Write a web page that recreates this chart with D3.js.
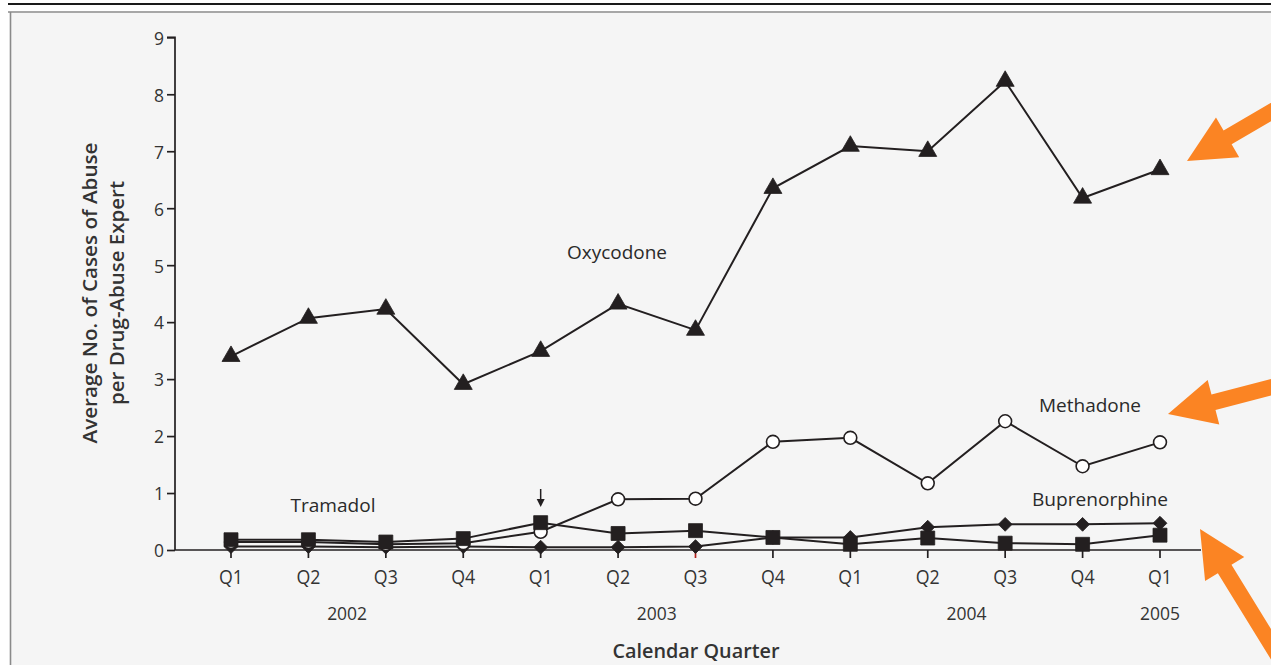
<!DOCTYPE html>
<html><head><meta charset="utf-8">
<script src="https://cdn.jsdelivr.net/npm/d3@7"></script>
<style>html,body{margin:0;padding:0;background:#fff;}svg{display:block;}</style>
</head><body>
<svg id="chart" width="1271" height="665"></svg>
<script>
const quarters = ["Q1","Q2","Q3","Q4","Q1","Q2","Q3","Q4","Q1","Q2","Q3","Q4","Q1"];
const yearLabels = ["2002","2003","2004","2005"];
const yearPositions = [1.5, 5.5, 9.5, 12];
const yTicks = [0,1,2,3,4,5,6,7,8,9];
const oxycodone = [3.40,4.07,4.23,2.91,3.49,4.32,3.86,6.35,7.09,7.00,8.23,6.18,6.68];
const methadone = [0.14,0.14,0.10,0.12,0.32,0.89,0.90,1.90,1.97,1.17,2.26,1.47,1.89];
const tramadol = [0.18,0.18,0.14,0.20,0.48,0.29,0.34,0.22,0.10,0.21,0.12,0.10,0.26];
const buprenorphine = [0.06,0.06,0.05,0.06,0.05,0.05,0.06,0.22,0.22,0.40,0.45,0.45,0.47];

const svg = d3.select("#chart");
const ink = "#231f20";
const font = "'Open Sans', 'DejaVu Sans', sans-serif";

// frame
svg.append("rect").attr("x",11).attr("y",13).attr("width",1260).attr("height",652).attr("fill","#f5f5f5");
svg.append("line").attr("x1",8).attr("x2",1271).attr("y1",4).attr("y2",4).attr("stroke","#1a1a1a").attr("stroke-width",2.2);
svg.append("line").attr("x1",8).attr("x2",1271).attr("y1",12).attr("y2",12).attr("stroke","#8a8a8a").attr("stroke-width",1.6);
svg.append("line").attr("x1",10.5).attr("x2",10.5).attr("y1",12).attr("y2",665).attr("stroke","#8a8a8a").attr("stroke-width",1.6);

const x = d3.scaleLinear().domain([0,12]).range([231,1160]);
const y = d3.scaleLinear().domain([0,9]).range([550,37.3]);
const axisLeft = 175;

// y axis
const yAxis = d3.axisLeft(y).tickValues(yTicks).tickSize(8).tickPadding(3).tickFormat(d3.format("d"));
const gy = svg.append("g").attr("transform",`translate(${axisLeft},0)`).call(yAxis);
gy.select(".domain").attr("stroke",ink).attr("stroke-width",1.7).attr("d",`M-8,${y(9)}H0V${y(0)}`);
gy.selectAll(".tick line").attr("stroke",ink).attr("stroke-width",1.7);
gy.selectAll(".tick text").attr("fill","#333").attr("font-family",font).attr("font-size",19).attr("dy","0.36em")
  .attr("textLength",10).attr("lengthAdjust","spacingAndGlyphs");

// x axis
const gx = svg.append("g").attr("transform",`translate(0,${y(0)})`);
gx.append("line").attr("x1",axisLeft).attr("x2",1201).attr("y1",0).attr("y2",0).attr("stroke",ink).attr("stroke-width",1.7);
const xt = gx.selectAll("g.xt").data(quarters).join("g").attr("class","xt").attr("transform",(d,i)=>`translate(${x(i)},0)`);
xt.append("line").attr("y1",0).attr("y2",8).attr("stroke",(d,i)=> i===6 ? "#b3201c" : ink).attr("stroke-width",1.7);
xt.append("text").attr("y",34).attr("text-anchor","middle").attr("fill","#333").attr("font-family",font).attr("font-size",20)
  .attr("textLength",24).attr("lengthAdjust","spacingAndGlyphs").text(d=>d);
gx.selectAll("text.yr").data(yearLabels).join("text").attr("class","yr")
  .attr("x",(d,i)=>x(yearPositions[i])).attr("y",70).attr("text-anchor","middle")
  .attr("fill","#333").attr("font-family",font).attr("font-size",19).attr("textLength",40).attr("lengthAdjust","spacingAndGlyphs").text(d=>d);

// axis titles
svg.append("text").attr("x",696).attr("y",658).attr("text-anchor","middle").attr("fill","#333")
  .attr("font-family",font).attr("font-size",20).attr("font-weight",600)
  .attr("textLength",167).attr("lengthAdjust","spacingAndGlyphs").text("Calendar Quarter");
const yt = svg.append("g").attr("transform","translate(0,293) rotate(-90)");
yt.append("text").attr("x",0).attr("y",97).attr("text-anchor","middle").attr("fill","#333")
  .attr("font-family",font).attr("font-size",19).attr("font-weight",600)
  .attr("textLength",301).attr("lengthAdjust","spacingAndGlyphs").text("Average No. of Cases of Abuse");
yt.append("text").attr("x",0).attr("y",124).attr("text-anchor","middle").attr("fill","#333")
  .attr("font-family",font).attr("font-size",19).attr("font-weight",600)
  .attr("textLength",224).attr("lengthAdjust","spacingAndGlyphs").text("per Drug-Abuse Expert");

// series
const line = d3.line().x((d,i)=>x(i)).y(d=>y(d));
function drawSeries(vals, sym, size, fill, rot){
  const g = svg.append("g");
  g.append("path").attr("d",line(vals)).attr("fill","none").attr("stroke",ink).attr("stroke-width",2);
  g.selectAll("path.m").data(vals).join("path").attr("class","m")
    .attr("transform",(d,i)=>`translate(${x(i)},${y(d)}) rotate(${rot||0})`)
    .attr("d",d3.symbol().type(sym).size(size)).attr("fill",fill).attr("stroke",ink).attr("stroke-width",fill==="#fff"?1.6:0.8);
}
drawSeries(buprenorphine, d3.symbolSquare, 95, ink, 45);
drawSeries(methadone, d3.symbolCircle, 130, "#fff");
drawSeries(tramadol, d3.symbolSquare, 195, ink);
drawSeries(oxycodone, d3.symbolTriangle, 140, ink);

// series labels
const labels = [
  {t:"Oxycodone", x:617, y:259, w:100},
  {t:"Methadone", x:1090, y:412, w:102},
  {t:"Buprenorphine", x:1100, y:506, w:136},
  {t:"Tramadol", x:333, y:512, w:85}
];
svg.selectAll("text.lab").data(labels).join("text").attr("class","lab")
  .attr("x",d=>d.x).attr("y",d=>d.y).attr("text-anchor","middle").attr("fill","#2a2a2a")
  .attr("font-family",font).attr("font-size",18).attr("textLength",d=>d.w).attr("lengthAdjust","spacingAndGlyphs").text(d=>d.t);

// small arrow at Q1 2003
const ax = x(4);
svg.append("line").attr("x1",ax).attr("x2",ax).attr("y1",489).attr("y2",500).attr("stroke",ink).attr("stroke-width",1.5);
svg.append("path").attr("d",`M${ax-4},${499}L${ax+4},${499}L${ax},${507}Z`).attr("fill",ink);

// orange annotation arrows
function bigArrow(tip, tail){
  const dx = tail[0]-tip[0], dy = tail[1]-tip[1], L = Math.hypot(dx,dy);
  const ux = dx/L, uy = dy/L, px = -uy, py = ux;
  const hl = 47, hw = 23, sw = 8;
  const b = [tip[0]+ux*hl, tip[1]+uy*hl];
  const pts = [
    tip,
    [b[0]+px*hw, b[1]+py*hw],
    [b[0]+px*sw, b[1]+py*sw],
    [tail[0]+px*sw, tail[1]+py*sw],
    [tail[0]-px*sw, tail[1]-py*sw],
    [b[0]-px*sw, b[1]-py*sw],
    [b[0]-px*hw, b[1]-py*hw]
  ];
  svg.append("path").attr("d","M"+pts.map(p=>p.join(",")).join("L")+"Z").attr("fill","#fb8423");
}
bigArrow([1187,161],[1300,95]);
bigArrow([1168,414],[1310,377]);
bigArrow([1200,529],[1290,675]);
</script>
</body></html>
